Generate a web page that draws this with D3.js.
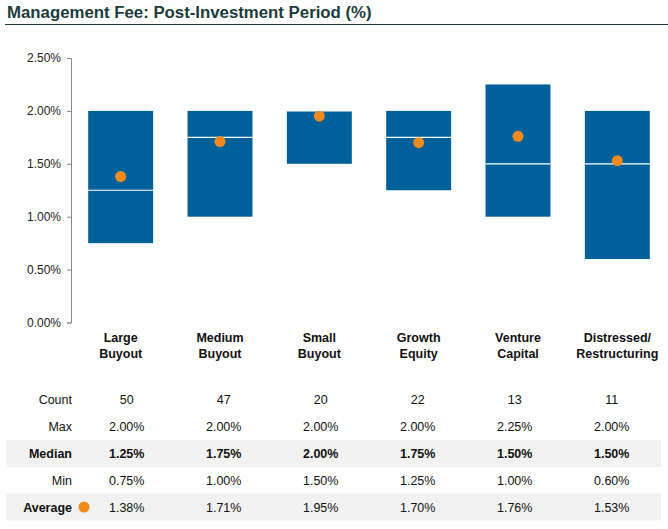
<!DOCTYPE html>
<html><head><meta charset="utf-8">
<script src="https://cdn.jsdelivr.net/npm/d3@7"></script>
<style>
body{margin:0;background:#fff;}
text{font-family:"Liberation Sans",Arial,sans-serif;}
</style></head>
<body><svg id="c" width="668" height="529"></svg>
<script>
const categories = [["Large","Buyout"],["Medium","Buyout"],["Small","Buyout"],["Growth","Equity"],["Venture","Capital"],["Distressed/","Restructuring"]];
const counts = [50,47,20,22,13,11];
const maxVals = [2.00,2.00,2.00,2.00,2.25,2.00];
const medianVals = [1.25,1.75,2.00,1.75,1.50,1.50];
const minVals = [0.75,1.00,1.50,1.25,1.00,0.60];
const avgVals = [1.38,1.71,1.95,1.70,1.76,1.53];
const yTicks = [0,0.5,1.0,1.5,2.0,2.5];

const svg = d3.select("#c");
const blue = "#00609a", orange = "#f28a1e", titleColor = "#1c3b3c";

svg.append("text").attr("x",7).attr("y",18).attr("font-size",16.8).attr("font-weight","bold")
  .attr("fill",titleColor).text("Management Fee: Post-Investment Period (%)");
svg.append("line").attr("x1",5).attr("x2",668).attr("y1",24.5).attr("y2",24.5).attr("stroke",titleColor).attr("stroke-width",1.2);

const idx = d3.range(categories.length);
const x = d3.scaleBand().domain(idx).range([71,667]).paddingInner(0.346).paddingOuter(0.173);
const xt = d3.scaleBand().domain(idx).range([78.2,660.2]);
const y = d3.scaleLinear().domain([0,2.5]).range([322.5,58]);

const yAxis = d3.axisLeft(y).tickValues(yTicks).tickSize(4).tickPadding(6).tickFormat(d=>d.toFixed(2)+"%");
const ga = svg.append("g").attr("transform","translate(71,0)").call(yAxis);
ga.select(".domain").attr("stroke","#888");
ga.selectAll(".tick line").attr("stroke","#888");
ga.selectAll(".tick text").attr("font-size",12).attr("fill","#222").attr("font-family","Liberation Sans, Arial, sans-serif");

const g = svg.append("g");
g.selectAll("rect.bar").data(idx).join("rect").attr("class","bar")
  .attr("x",i=>x(i)).attr("width",x.bandwidth())
  .attr("y",i=>y(maxVals[i])).attr("height",i=>y(minVals[i])-y(maxVals[i]))
  .attr("fill",blue);
g.selectAll("line.med").data(idx).join("line").attr("class","med")
  .attr("x1",i=>x(i)).attr("x2",i=>x(i)+x.bandwidth())
  .attr("y1",i=>y(medianVals[i])).attr("y2",i=>y(medianVals[i]))
  .attr("stroke","#fff").attr("stroke-width",1.2);
g.selectAll("circle.avg").data(idx).join("circle").attr("class","avg")
  .attr("cx",i=>x(i)+x.bandwidth()/2).attr("cy",i=>y(avgVals[i])).attr("r",5.5)
  .attr("fill",orange);

const lab = svg.append("g");
idx.forEach(i=>{
  const t = lab.append("text").attr("x",x(i)+x.bandwidth()/2).attr("text-anchor","middle")
    .attr("font-size",12.5).attr("font-weight","bold").attr("fill","#111");
  t.append("tspan").attr("x",x(i)+x.bandwidth()/2).attr("y",342).text(categories[i][0]);
  t.append("tspan").attr("x",x(i)+x.bandwidth()/2).attr("y",357.5).text(categories[i][1]);
});

// table
const rows = [
  {name:"Count", vals:counts.map(String), bold:false, shade:false, yc:399},
  {name:"Max", vals:maxVals.map(v=>v.toFixed(2)+"%"), bold:false, shade:false, yc:426.5},
  {name:"Median", vals:medianVals.map(v=>v.toFixed(2)+"%"), bold:true, shade:true, yc:453.5},
  {name:"Min", vals:minVals.map(v=>v.toFixed(2)+"%"), bold:false, shade:false, yc:480},
  {name:"Average", vals:avgVals.map(v=>v.toFixed(2)+"%"), bold:false, shade:true, labelBold:true, yc:507}
];
const tb = svg.append("g");
rows.forEach(r=>{
  if(r.shade) tb.append("rect").attr("x",6).attr("width",655).attr("y",r.yc-13.5).attr("height",27).attr("fill","#f2f2f2");
  tb.append("text").attr("x",72).attr("y",r.yc+4.5).attr("text-anchor","end")
    .attr("font-size",12.5).attr("font-weight",(r.bold||r.labelBold)?"bold":"normal").attr("fill","#111").text(r.name);
  r.vals.forEach((v,i)=>{
    tb.append("text").attr("x",xt(i)+xt.bandwidth()/2).attr("y",r.yc+4.5).attr("text-anchor","middle")
      .attr("font-size",12.5).attr("font-weight",r.bold?"bold":"normal").attr("fill","#111").text(v);
  });
});
tb.append("circle").attr("cx",84).attr("cy",507).attr("r",5.5).attr("fill",orange);
</script></body></html>
